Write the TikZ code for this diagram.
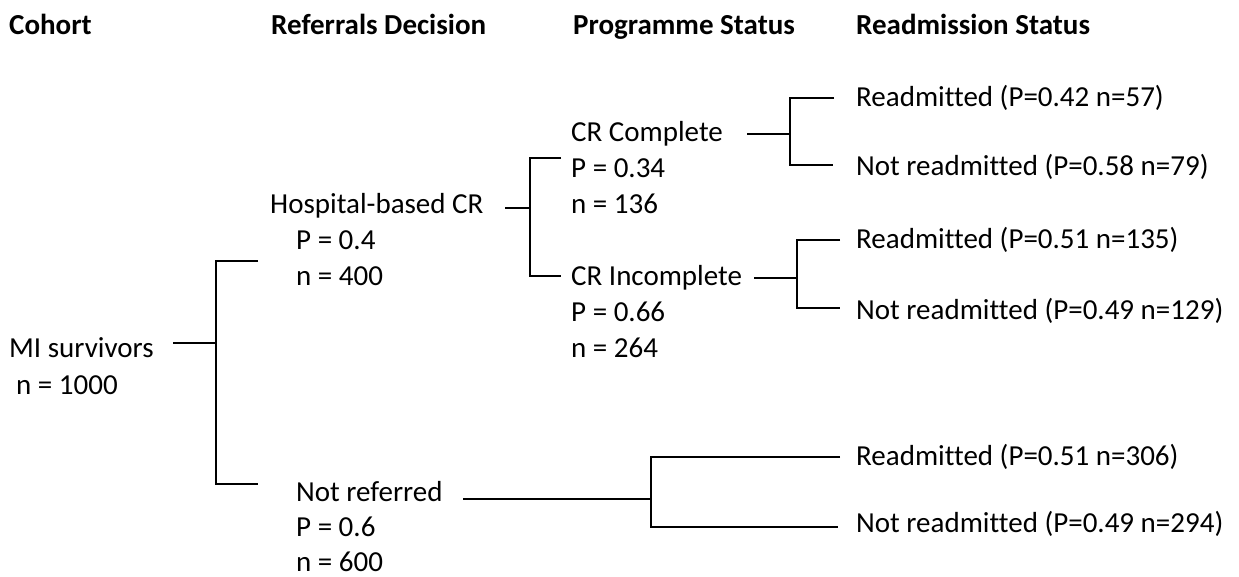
\documentclass[tikz,border=0pt]{standalone}
\usepackage{fontspec}
\setmainfont{Carlito}[Ligatures=NoCommon]
\begin{document}
\begin{tikzpicture}[x=1pt,y=-1pt,
  lbl/.style={anchor=base west, inner sep=0pt, font=\fontsize{29}{36}\selectfont},
  hdr/.style={anchor=base west, inner sep=0pt, font=\fontsize{29}{36}\selectfont\bfseries},
  link/.style={draw, line width=2pt, line join=miter}]
\useasboundingbox (0,0) rectangle (1239,577);

% column headings
\node[hdr] (hcoh)  at (9,35)   {Cohort};
\node[hdr] (href)  at (271,35) {Referrals Decision};
\node[hdr] (hprog) at (573,35) {Programme Status};
\node[hdr] (hread) at (856,35) {Readmission Status};

% cohort
\node[lbl] (mi)  at (9,357)  {MI survivors};
\node[lbl] (min) at (16,394) {n = 1000};

% referral decision
\node[lbl] (hosp)  at (270,214) {Hospital-based CR};
\node[lbl] (hospP) at (296,250) {P = 0.4};
\node[lbl] (hospn) at (296,286) {n = 400};
\node[lbl] (nr)    at (296,501) {Not referred};
\node[lbl] (nrP)   at (296,536) {P = 0.6};
\node[lbl] (nrn)   at (296,571) {n = 600};

% programme status
\node[lbl] (crc)  at (571,142) {CR Complete};
\node[lbl] (crcP) at (571,178) {P = 0.34};
\node[lbl] (crcn) at (571,214) {n = 136};
\node[lbl] (cri)  at (571,286) {CR Incomplete};
\node[lbl] (criP) at (571,321) {P = 0.66};
\node[lbl] (crin) at (571,357) {n = 264};

% readmission status
\node[lbl] (r1) at (856,107) {Readmitted (P=0.42 n=57)};
\node[lbl] (n1) at (856,176) {Not readmitted (P=0.58 n=79)};
\node[lbl] (r2) at (856,249) {Readmitted (P=0.51 n=135)};
\node[lbl] (n2) at (856,319) {Not readmitted (P=0.49 n=129)};
\node[lbl] (r3) at (856,465) {Readmitted (P=0.51 n=306)};
\node[lbl] (n3) at (856,532) {Not readmitted (P=0.49 n=294)};

% branch points
\coordinate (miS) at (173,343); \coordinate (miK) at (216,343);
\coordinate (miT) at (216,261); \coordinate (miTe) at (258,261);
\coordinate (miB) at (216,484); \coordinate (miBe) at (258,484);

\coordinate (hoS) at (505,208); \coordinate (hoK) at (531,208);
\coordinate (hoT) at (530,158); \coordinate (hoTe) at (561,158);
\coordinate (hoB) at (530,276); \coordinate (hoBe) at (561,276);

\coordinate (ccS) at (747,134); \coordinate (ccK) at (790,134);
\coordinate (ccT) at (790,98);  \coordinate (ccTe) at (834,98);
\coordinate (ccB) at (790,165); \coordinate (ccBe) at (833,165);

\coordinate (ciS) at (754,278); \coordinate (ciK) at (797,278);
\coordinate (ciT) at (797,240); \coordinate (ciTe) at (840,240);
\coordinate (ciB) at (797,308); \coordinate (ciBe) at (840,308);

\coordinate (nrS) at (463,499); \coordinate (nrK) at (651,499);
\coordinate (nrT) at (651,457); \coordinate (nrTe) at (840,457);
\coordinate (nrB) at (651,527); \coordinate (nrBe) at (838,527);

% connectors
\foreach \p in {mi,ho,cc,ci,nr}{
  \draw[link] (\p S) -- (\p K);
  \draw[link] (\p Te) -- (\p T) -- (\p B) -- (\p Be);
}
\end{tikzpicture}
\end{document}
